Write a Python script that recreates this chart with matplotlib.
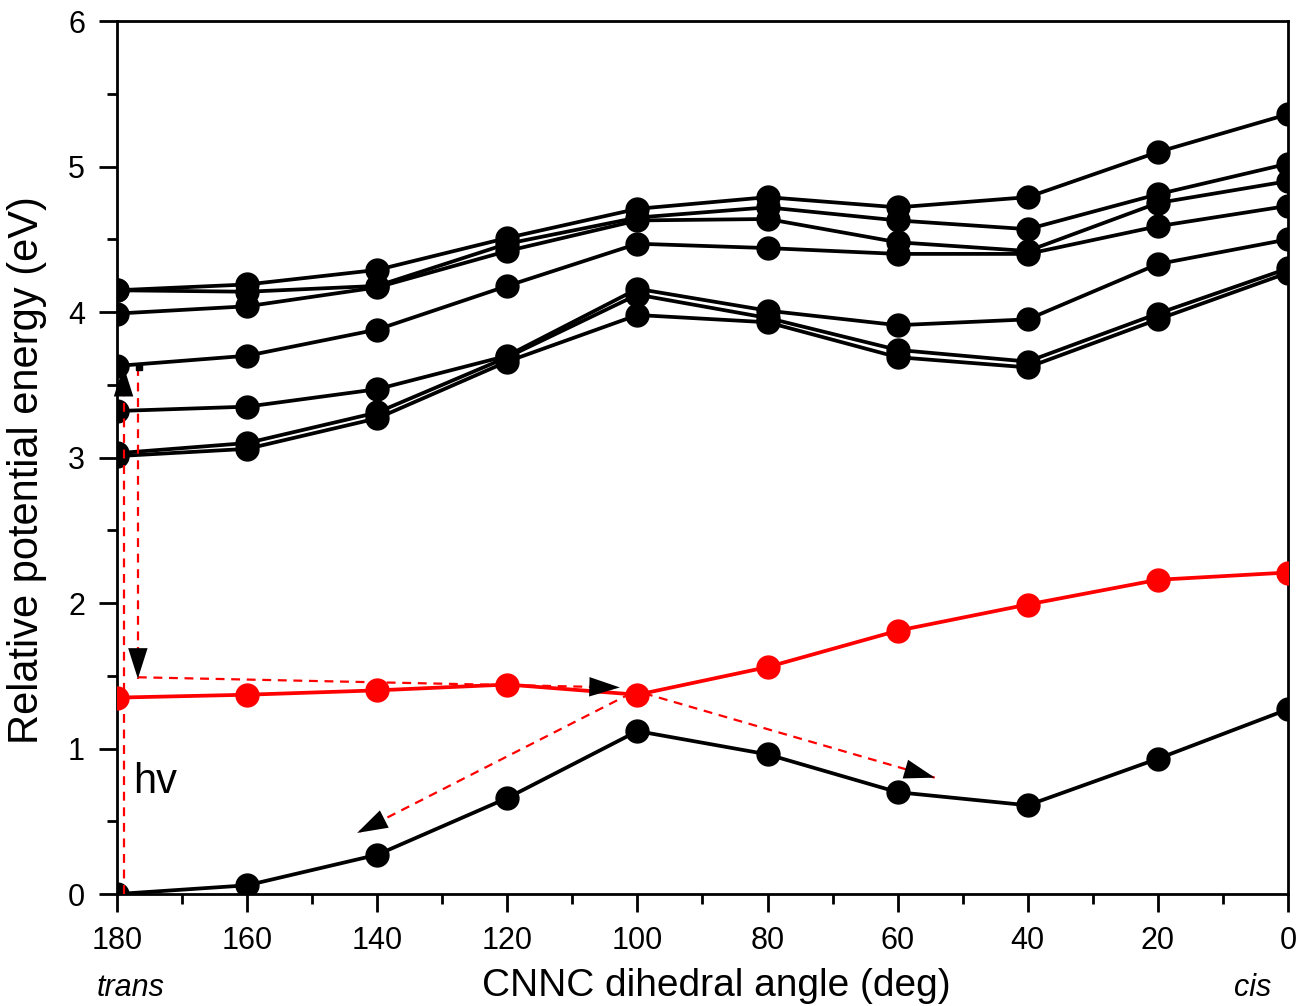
import matplotlib
matplotlib.use("Agg")
import matplotlib.pyplot as plt
from matplotlib.ticker import MultipleLocator

plt.rcParams['font.family'] = ['Liberation Sans', 'DejaVu Sans']

angles = [180, 160, 140, 120, 100, 80, 60, 40, 20, 0]

s0 = [0.00, 0.06, 0.27, 0.66, 1.12, 0.96, 0.70, 0.61, 0.93, 1.27]
s1 = [1.35, 1.37, 1.40, 1.44, 1.37, 1.56, 1.81, 1.99, 2.16, 2.21]

upper_states = [
    [4.15, 4.19, 4.29, 4.51, 4.71, 4.79, 4.72, 4.79, 5.10, 5.36],
    [4.15, 4.14, 4.18, 4.47, 4.65, 4.72, 4.63, 4.57, 4.81, 5.02],
    [3.99, 4.04, 4.17, 4.42, 4.63, 4.64, 4.48, 4.42, 4.75, 4.90],
    [3.63, 3.70, 3.88, 4.18, 4.47, 4.44, 4.40, 4.40, 4.59, 4.73],
    [3.32, 3.35, 3.47, 3.70, 4.16, 4.01, 3.91, 3.95, 4.33, 4.50],
    [3.03, 3.10, 3.31, 3.69, 4.12, 3.96, 3.74, 3.66, 3.99, 4.30],
    [3.01, 3.06, 3.27, 3.66, 3.98, 3.93, 3.69, 3.62, 3.95, 4.27],
]

x_ticks = [180, 160, 140, 120, 100, 80, 60, 40, 20, 0]
y_ticks = [0, 1, 2, 3, 4, 5, 6]

# dashed red paths (x, y) with arrow at end
path_hv_up = ([179.0, 179.0], [0.0, 3.63])
path_down = ([176.8, 176.8], [3.62, 1.48])
path_horiz = ([176.8, 102.7], [1.49, 1.42])
path_right = ([99.0, 54.3], [1.38, 0.80])
path_left = ([101.0, 143.1], [1.38, 0.42])

fig = plt.figure(figsize=(13.02, 10.06), dpi=100)
ax = fig.add_axes([0.0899, 0.1113, 0.8993, 0.8677])

for ys in upper_states:
    ax.plot(angles, ys, color='black', lw=2.7, marker='o', ms=16.5, zorder=3)
ax.plot(angles, s0, color='black', lw=2.7, marker='o', ms=16.5, zorder=3)
ax.plot(angles, s1, color='#ff0000', lw=2.7, marker='o', ms=16.5, zorder=3)

for px, py in [path_hv_up, path_down, path_horiz, path_right, path_left]:
    ax.plot(px, py, color='#ff0000', lw=1.6, ls=(0, (4, 3)), zorder=4, clip_on=False)
    ax.annotate('', xy=(px[1], py[1]), xytext=(px[0], py[0]),
                arrowprops=dict(arrowstyle='-|>,head_length=2.2,head_width=0.7',
                                color='black', lw=0, shrinkA=0, shrinkB=0,
                                fc='black', ec='black'),
                zorder=5)

# small square at top of the downward path
ax.plot([176.6], [3.62], marker='s', color='black', ms=5, zorder=5, clip_on=False)

ax.text(177.5, 0.77, 'hv', fontsize=30, ha='left', va='center')

ax.set_xlim(180, 0)
ax.set_ylim(0, 6)
ax.set_xticks(x_ticks)
ax.set_xticklabels([str(v) for v in x_ticks])
ax.set_yticks(y_ticks)
ax.set_yticklabels([str(v) for v in y_ticks])
ax.xaxis.set_minor_locator(MultipleLocator(10))
ax.yaxis.set_minor_locator(MultipleLocator(0.5))
ax.tick_params(which='major', direction='out', length=13, width=2, labelsize=22, pad=10)
ax.tick_params(which='minor', direction='out', length=7, width=2)
ax.tick_params(top=False, right=False)
for s in ax.spines.values():
    s.set_linewidth(2)

ax.set_xlabel('CNNC dihedral angle (deg)', fontsize=28)
ax.set_ylabel('Relative potential energy (eV)', fontsize=30)
ax.xaxis.set_label_coords(0.5115, -0.085)
ax.yaxis.set_label_coords(-0.060, 0.486)

fig.text(0.100, 0.003, 'trans', fontsize=22, style='italic', ha='center', va='bottom')
fig.text(0.962, 0.003, 'cis', fontsize=22, style='italic', ha='center', va='bottom')

fig.savefig('out.png', dpi=100)
